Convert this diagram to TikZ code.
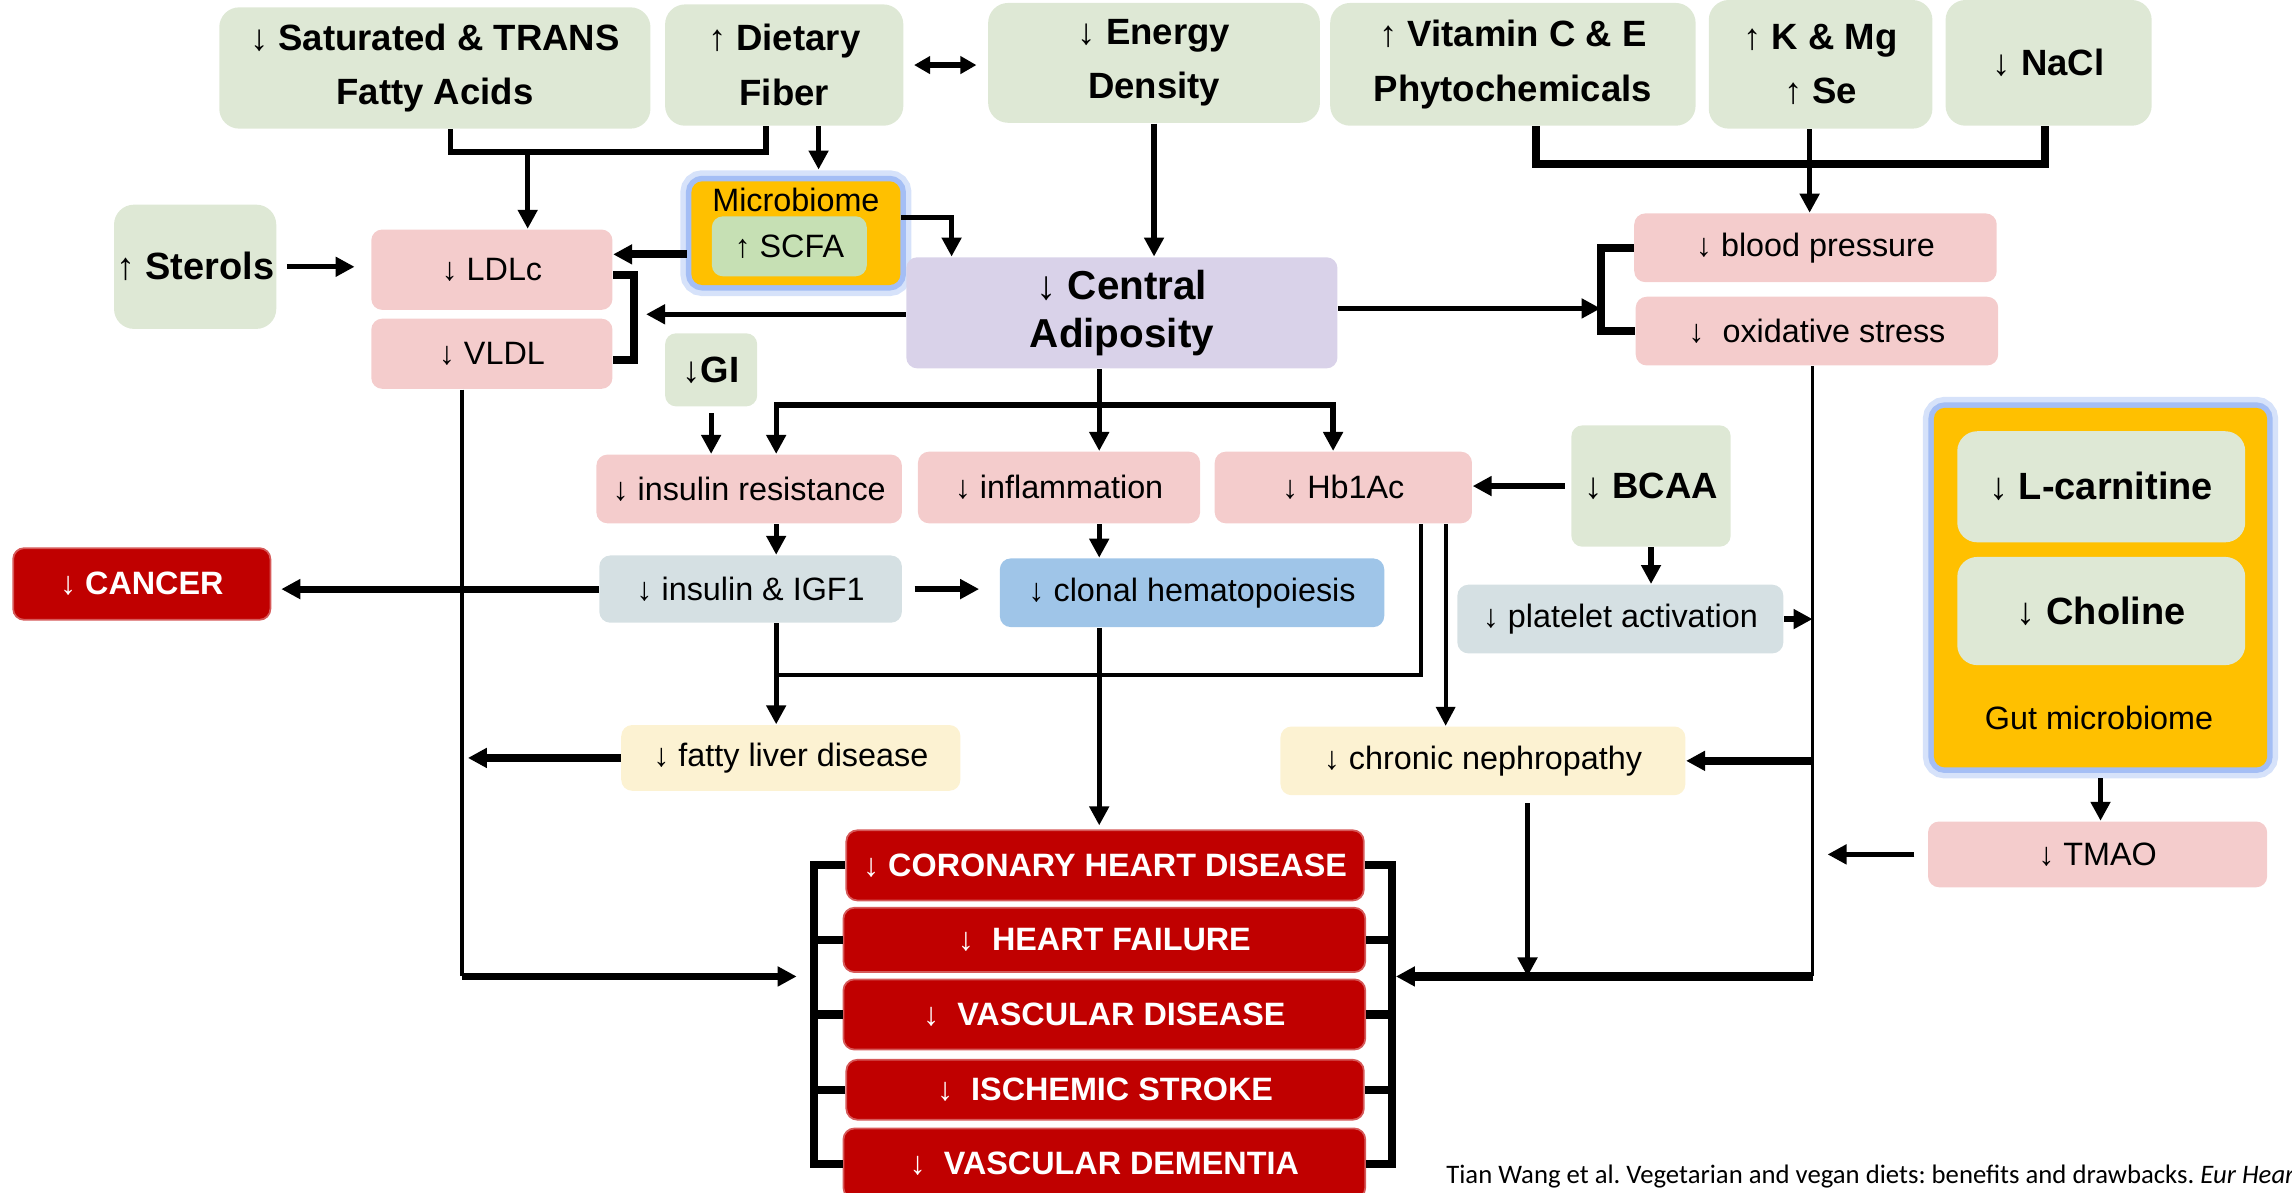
\documentclass[tikz,border=0pt]{standalone}
\usepackage{fontspec}
\setmainfont{Liberation Sans}
\newfontfamily\citefont{Carlito}
\usepackage{tikz}
\usetikzlibrary{arrows.meta,positioning,calc}
\usepackage{xcolor}
\definecolor{dietgreen}{HTML}{DEE8D5}
\definecolor{riskpink}{HTML}{F4CCCC}
\definecolor{fatpurple}{HTML}{D9D2E9}
\definecolor{paleblue}{HTML}{D5E0E3}
\definecolor{clonblue}{HTML}{9FC5E8}
\definecolor{cream}{HTML}{FCF2D2}
\definecolor{diseasered}{HTML}{C00000}
\definecolor{microorange}{HTML}{FFC000}
\definecolor{scfagreen}{HTML}{C6E0B4}
\definecolor{glowblue}{HTML}{A4BEF5}
\newcommand{\px}{0.14617mm}
\frenchspacing

\begin{document}
\begin{tikzpicture}[
    x=\px, y=-\px,
    box/.style={rounded corners=1.1mm, align=center, inner sep=0pt, font=\fontsize{9.2}{11}\selectfont},
    sz/.style 2 args={minimum width=#1*\px, minimum height=#2*\px},
    diet/.style={box, fill=dietgreen, rounded corners=2mm, font=\bfseries\fontsize{10.4}{15.5}\selectfont},
    risk/.style={box, fill=riskpink},
    pale/.style={box, fill=paleblue},
    late/.style={box, fill=cream},
    disease/.style={box, fill=diseasered, draw=diseasered!65!white, line width=0.5pt, text=white, font=\bfseries\fontsize{9.2}{11}\selectfont},
    glow/.style={preaction={draw=glowblue!45, line width=2.2mm}, preaction={draw=glowblue, line width=1.1mm}},
    ln/.style={line width=1.5pt},
    thinln/.style={line width=1.1pt},
    thickln/.style={line width=2.3pt},
    arr/.style={-{Triangle[length=1.9mm,width=1.9mm]}, line width=1.5pt}
]
\useasboundingbox (0,0) rectangle (1568,816);
\clip (0,0) rectangle (1568,816);

% diet inputs
\node[diet, sz={295}{83}] (sat) at (297.5,46.5) {↓ Saturated \& TRANS\\Fatty Acids};
\node[diet, sz={163}{83}] (fiber) at (536.5,44.5) {↑ Dietary\\Fiber};
\node[diet, sz={227}{82}] (energy) at (789.5,43) {↓ Energy\\Density};
\node[diet, sz={250}{84}] (vit) at (1035,44) {↑ Vitamin C \& E\\Phytochemicals};
\node[diet, sz={153}{88}] (kmg) at (1245.5,44) {↑ K \& Mg\\↑ Se};
\node[diet, sz={141}{86}] (nacl) at (1401.5,43) {↓ NaCl};
\node[diet, sz={111}{85}, font=\bfseries\fontsize{10.8}{13}\selectfont] (sterols) at (133.5,182.5) {↑ Sterols};
\node[diet, sz={63}{50}, rounded corners=1.1mm] (gi) at (486.5,253) {↓GI};
\node[diet, sz={109}{83}, rounded corners=1.1mm] (bcaa) at (1129.5,332.5) {↓ BCAA};

% lipids
\node[risk, sz={165}{55}] (ldl) at (336.5,184.5) {↓ LDLc};
\node[risk, sz={165}{48}] (vldl) at (336.5,242) {↓ VLDL};

% microbiome (SCFA)
\node[box, glow, fill=microorange, sz={143}{71}] (micro) at (544.5,159.5) {};
\node[font=\fontsize{9.2}{11}\selectfont] (microlbl) at (544.5,137) {Microbiome};
\node[box, fill=scfagreen, sz={106}{41}] (scfa) at (540,168.5) {↑ SCFA};

% adiposity and vascular
\node[box, fill=fatpurple, sz={295}{76}, font=\bfseries\fontsize{11.5}{13.5}\selectfont] (central) at (767.5,214) {↓ Central\\Adiposity};
\node[risk, sz={248}{47}] (bp) at (1242,169.5) {↓ blood pressure};
\node[risk, sz={248}{47}] (ox) at (1243,226.5) {↓\ \ oxidative stress};

% metabolic
\node[risk, sz={209}{47}] (ir) at (512.5,334.5) {↓ insulin resistance};
\node[risk, sz={193}{49}] (infl) at (724.5,333.5) {↓ inflammation};
\node[risk, sz={176}{49}] (hb) at (919,333.5) {↓ Hb1Ac};
\node[pale, sz={207}{46}] (igf) at (513.5,403) {↓ insulin \& IGF1};
\node[box, fill=clonblue, sz={263}{47}] (clonal) at (815.5,405.5) {↓ clonal hematopoiesis};
\node[pale, sz={223}{47}] (plat) at (1108.5,423.5) {↓ platelet activation};
\node[late, sz={232}{45}] (liver) at (541,518.5) {↓ fatty liver disease};
\node[late, sz={277}{47}] (neph) at (1014.5,520.5) {↓ chronic nephropathy};

% gut microbiome
\node[box, glow, fill=microorange, sz={228}{246}] (gut) at (1437,402) {};
\node[diet, sz={197}{76}, font=\bfseries\fontsize{10.8}{13}\selectfont] (lcar) at (1437.5,333) {↓ L-carnitine};
\node[diet, sz={197}{74}, font=\bfseries\fontsize{10.8}{13}\selectfont] (chol) at (1437.5,418) {↓ Choline};
\node[font=\fontsize{9.2}{11}\selectfont] (gutlbl) at (1436,491) {Gut microbiome};
\node[risk, sz={232}{45}] (tmao) at (1435,584.5) {↓ TMAO};

% outcomes
\node[disease, sz={176}{49}] (cancer) at (97,399.5) {↓ CANCER};
\node[disease, sz={354}{48}] (chd) at (756,592) {↓ CORONARY HEART DISEASE};
\node[disease, sz={357}{44}] (hf) at (755.5,643) {↓ \ HEART FAILURE};
\node[disease, sz={357}{48}] (vd) at (755.5,694) {↓ \ VASCULAR DISEASE};
\node[disease, sz={354}{41}] (stroke) at (756,745.5) {↓ \ ISCHEMIC STROKE};
\node[disease, sz={357}{48}] (vdem) at (755.5,796) {↓ \ VASCULAR DEMENTIA};

\node[anchor=west, inner sep=0pt, font=\citefont\fontsize{7.6}{9}\selectfont] (cite) at (989,805)
    {Tian Wang et al. Vegetarian and vegan diets: benefits and drawbacks. \textit{Eur Heart J}};

% junctions
\coordinate (fatj) at (361,104);
\coordinate (minj) at (1238,112);
\coordinate (lipid) at (434,215);
\coordinate (oxbr) at (1095,211);
\coordinate (cj) at (752,277);
\coordinate (xIns) at (531,0);
\coordinate (hbj) at (531,462);
\coordinate (lj) at (316,668);
\coordinate (rj) at (1240,668);
\coordinate (lbr) at (545,668);
\coordinate (rbr) at (955,668);
\coordinate (lbx) at (557,0);
\coordinate (rbx) at (952,0);
\coordinate (fibout) at ($(fiber.south)+(23.5,0)$);
\coordinate (scfaout) at ($(ldl.east)+(0,-10.5)$);
\coordinate (hbout) at ($(hb.south)+(70,0)$);
\coordinate (nephout) at ($(neph.south)+(30.5,5)$);

% top inputs
\draw[ln] ($(sat.south)+(10.5,0)$) |- (fatj) -| ($(fiber.south)+(-12.5,0)$);
\draw[arr] (fatj) -- (fatj |- ldl.north);
\draw[arr, shorten >=1.1mm] (fibout) -- (fibout |- micro.north);
\draw[{Triangle[length=1.6mm,width=1.7mm]}-{Triangle[length=1.6mm,width=1.7mm]}, line width=1.5pt, shorten <=1mm, shorten >=1.1mm] (fiber.east) -- (fiber.east -| energy.west);
\draw[arr] (energy.south) -- (energy.south |- central.north);
\draw[thickln] ($(vit.south)+(16,0)$) |- (minj) -| ($(nacl.south)+(-2.5,0)$);
\draw[ln] (kmg.south -| minj) -- (minj);
\draw[arr] (minj) -- (minj |- bp.north);

% lipids
\draw[arr, shorten <=1mm, shorten >=1.6mm] (sterols.east) -- (sterols.east -| ldl.west);
\draw[arr, line width=2.3pt, shorten <=0.4mm] (scfaout -| micro.west) -- (scfaout);
\draw[arr] ($(micro.east)+(0,-10.5)$) -| ($(central.north)+(-116.5,0)$);
\draw[thickln] ($(ldl.east)+(0,3.5)$) -| (lipid) |- ($(vldl.east)+(0,4)$);
\draw[arr] (central.west |- lipid) -- ($(lipid)+(8,0)$);

% vascular
\draw[thickln] (bp.west) -| (oxbr) |- (ox.west);
\draw[arr] (central.east |- oxbr) -- (oxbr);

% metabolic cascade
\draw[ln] (central.south -| cj) -- (cj);
\draw[arr] (cj) -| (ir.north -| xIns);
\draw[arr] (cj) -| ($(hb.north)+(-7,0)$);
\draw[arr] (cj) -- (cj |- infl.north);
\draw[arr, shorten <=0.6mm] (gi.south) -- (gi.south |- ir.north);
\draw[arr] (ir.south -| xIns) -- (igf.north -| xIns);
\draw[arr, line width=2pt, shorten >=1mm] (igf.west) -- (igf.west -| cancer.east);
\draw[arr, shorten <=1.2mm, shorten >=2mm] (igf.east) -- (igf.east -| clonal.west);
\draw[arr] (igf.south -| xIns) -- (liver.north -| xIns);
\draw[thinln] ($(hb.south)+(53,0)$) |- (hbj);
\draw[thinln, -{Triangle[length=1.9mm,width=1.9mm]}] (hbout) -- (hbout |- neph.north);
\draw[arr] (infl.south -| cj) -- (clonal.north -| cj);
\draw[arr, shorten >=0.4mm] (clonal.south -| cj) -- (chd.north -| cj);
\draw[arr, shorten <=0.6mm] (bcaa.west) -- (bcaa.west -| hb.east);
\draw[arr] (bcaa.south) -- (bcaa.south |- plat.north);

% right collector
\draw[thinln] (ox.south -| rj) -- (rj);
\draw[arr, line width=2.3pt] (rj) -- (rbr);
\draw[arr] (plat.east) -- (plat.east -| rj);
\draw[arr, line width=2.3pt] (neph.east -| rj) -- (neph.east);
\draw[arr, shorten <=1.3mm, shorten >=1.5mm] (tmao.west) -- (tmao.west -| rj);
\draw[arr, shorten <=1mm] (gut.south) -- (gut.south |- tmao.north);
\draw[arr] (nephout) -- (nephout |- rj);

% left collector
\draw[thinln] (vldl.south -| lj) -- (lj);
\draw[arr, line width=2pt] (lj) -- (lbr);
\draw[arr, line width=2.3pt, shorten >=0.6mm] (liver.west) -- (liver.west -| lj);

% disease brackets
\draw[thickln] (chd.west) -| (vdem.west -| lbx) -- (vdem.west);
\draw[thickln] (chd.east) -| (vdem.east -| rbx) -- (vdem.east);
\foreach \d in {hf,vd,stroke} {
    \draw[thickln] (\d.west) -- (\d.west -| lbx);
    \draw[thickln] (\d.east) -- (\d.east -| rbx);
}
\end{tikzpicture}
\end{document}
